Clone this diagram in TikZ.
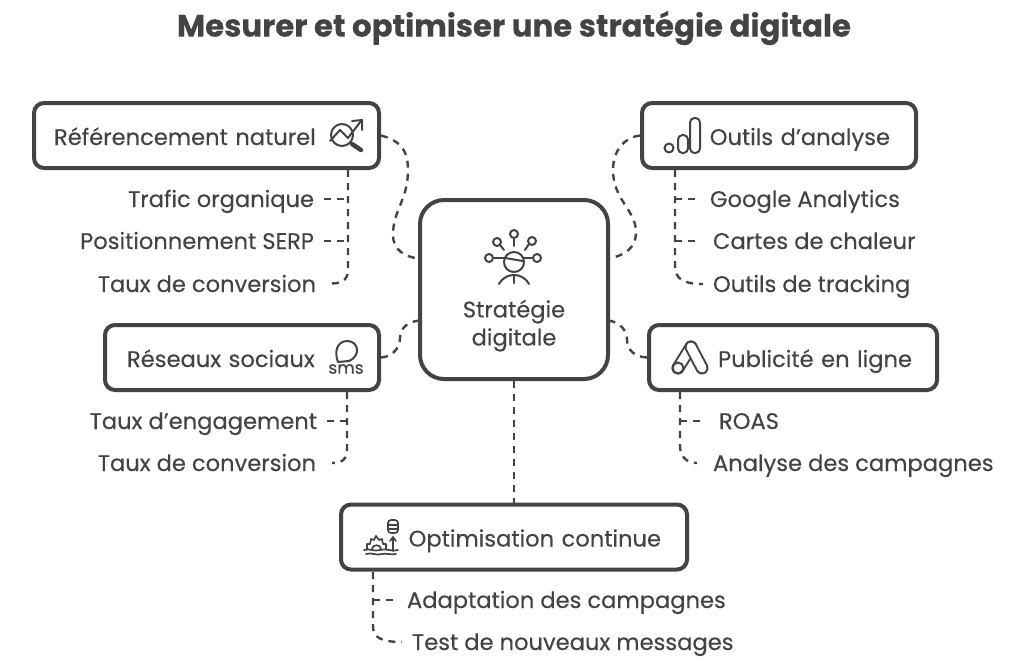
\documentclass[tikz,border=0pt]{standalone}
\usepackage{fontspec}
\setmainfont{Poppins}[FakeBold=0.25]
\definecolor{ink}{HTML}{434343}
\tikzset{
  box/.style={draw=ink, text=ink, line width=4pt, rounded corners=10pt, minimum height=65pt, inner xsep=20pt, font=\fontsize{22.6}{28}\selectfont},
  lone/.style={text height=25pt, text depth=6pt},
  leaf/.style={text=ink, inner sep=0pt, outer sep=4pt, text height=21pt, text depth=5pt, font=\fontsize{22.6}{24}\selectfont},
  link/.style={draw=ink, line width=2.4pt, dash pattern=on 7pt off 6pt},
  ico/.style={draw=ink, line width=2pt, line cap=round, line join=round},
}
\begin{document}
\begin{tikzpicture}[x=1pt,y=-1pt]
\useasboundingbox (0,0) rectangle (1024,662);
\node[text=ink, inner sep=0pt, font=\fontsize{30.8}{34}\selectfont\bfseries] (title) at (514,28){Mesurer et optimiser une stratégie digitale};
% boxes
\node[box, rounded corners=24pt, minimum width=188pt, minimum height=179pt, align=center] (strat) at (514,289.5){\rule{0pt}{62pt}\\Stratégie\\digitale};
\node[box, lone, text width=305pt, align=left] (refnat) at (206.5,135.5){Référencement naturel};
\node[box, lone, inner xsep=26pt, text width=222pt, align=right] (analyse) at (779,135.5){Outils d'analyse};
\node[box, lone, inner xsep=22pt, text width=230pt, align=left] (social) at (242,357.5){Réseaux sociaux};
\node[box, lone, inner xsep=25pt, text width=238pt, align=right] (pub) at (793,357.5){Publicité en ligne};
\node[box, lone, inner xsep=26pt, text width=294pt, align=right] (optim) at (514,537){Optimisation continue};
% leaves
\node[leaf, anchor=east] (ref1) at (318,199){Trafic organique};
\node[leaf, anchor=east] (ref2) at (318,241){Positionnement SERP};
\node[leaf, anchor=east] (ref3) at (320,284){Taux de conversion};
\node[leaf, anchor=west] (ana1) at (706,199){Google Analytics};
\node[leaf, anchor=west] (ana2) at (709,241){Cartes de chaleur};
\node[leaf, anchor=west] (ana3) at (709,284){Outils de tracking};
\node[leaf, anchor=east] (soc1) at (321,421){Taux d'engagement};
\node[leaf, anchor=east] (soc2) at (320,463){Taux de conversion};
\node[leaf, anchor=west] (pub1) at (715,421){ROAS};
\node[leaf, anchor=west] (pub2) at (709,463){Analyse des campagnes};
\node[leaf, anchor=west] (opt1) at (403,600){Adaptation des campagnes};
\node[leaf, anchor=west] (opt2) at (408,642){Test de nouveaux messages};
% trunks start under the boxes
\coordinate (reftop) at (348,170);
\coordinate (anatop) at (675,170);
\coordinate (soctop) at (347,392);
\coordinate (pubtop) at (680,392);
\coordinate (opttop) at (373,572);
% links from the centre
\draw[link] (refnat.east) .. controls (398,140) and (408,148) .. (408,170) .. controls (408,200) and (393,210) .. (393,235) .. controls (393,250) and (405,257) .. (strat.162);
\draw[link] (analyse.west) .. controls (625,137) and (613,150) .. (613,170) .. controls (613,200) and (636,210) .. (636,232) .. controls (636,248) and (625,255) .. (strat.18);
\draw[link] (social.east) .. controls (392,357) and (400,348) .. (400,338) .. controls (400,328) and (408,322) .. (strat.198);
\draw[link] (pub.west) .. controls (635,357) and (627,350) .. (627,340) .. controls (627,330) and (620,323) .. (strat.-18);
\draw[link] (strat.south) -- (optim.north);
% trunks
\draw[link, shorten >=12pt] (reftop) -- (348,268) .. controls (348,278) and (345,283) .. (ref3.east);
\draw[link, shorten <=6pt] (ref1.east) -- (348,199);
\draw[link, shorten <=6pt] (ref2.east) -- (348,241);
\draw[link, shorten >=6pt] (anatop) -- (675,266) .. controls (675,278) and (682,284) .. (ana3.west);
\draw[link, shorten <=11pt] (ana1.west) -- (675,199);
\draw[link, shorten <=14pt] (ana2.west) -- (675,241);
\draw[link, shorten >=12pt] (soctop) -- (347,448) .. controls (347,458) and (344,463) .. (soc2.east);
\draw[link, shorten <=6pt] (soc1.east) -- (347,421);
\draw[link, shorten >=12pt] (pubtop) -- (680,446) .. controls (680,456) and (686,463) .. (pub2.west);
\draw[link, shorten <=15pt] (pub1.west) -- (680,421);
\draw[link, shorten >=6pt] (opttop) -- (373,626) .. controls (373,637) and (380,642) .. (opt2.west);
\draw[link, shorten <=10pt] (opt1.west) -- (373,600);
% icon: search chart
\draw[ico] (342,135) circle[radius=11];
\draw[ico] (330,141) -- (340,130) -- (348,138) -- (361,121);
\draw[ico] (352,121) -- (362,120) -- (362,130);
\draw[ico, line width=4.5pt] (352,144) -- (361,150);
% icon: bars
\draw[ico] (669,148) circle[radius=4.5];
\draw[ico, rounded corners=4.5pt] (678,135) rectangle (688,153);
\draw[ico, rounded corners=4.5pt] (690,118) rectangle (700,153);
% icon: person
\draw[ico] (514,262) circle[radius=10];
\draw[ico] (505,258) -- (523,261);
\draw[ico] (489,258) circle[radius=4];
\draw[ico] (537,258) circle[radius=4];
\draw[ico] (514,234) circle[radius=4];
\draw[ico] (497,242) circle[radius=4];
\draw[ico] (532,241) circle[radius=4];
\draw[ico] (493,258) -- (504,258);
\draw[ico] (524,258) -- (533,258);
\draw[ico] (514,238) -- (514,246);
\draw[ico] (500,245) -- (504,250);
\draw[ico] (529,244) -- (525,250);
\draw[ico] (499,284) .. controls (503,277) and (509,275) .. (514,275) .. controls (519,275) and (525,277) .. (529,284);
\draw[ico] (514,275) -- (514,283);
% icon: sms
\draw[ico] (338,362) .. controls (334,352) and (337,341) .. (347,341) .. controls (359,341) and (361,356) .. (349,361) -- (338,362);
\node[text=ink, inner sep=0pt, font=\fontsize{17}{17}\selectfont] (smstxt) at (346,369){sms};
% icon: ads
\draw[ico, line width=13pt] (678,368) -- (691,347);
\draw[white, line width=9pt, line cap=round] (678,368) -- (691,347);
\draw[ico, line width=13pt] (691,347) -- (702,368);
\draw[white, line width=9pt, line cap=round] (691,347) -- (702,368);
\draw[ico] (678,368) circle[radius=5.5];
% icon: data and gear
\draw[ico, line width=1.7pt, rounded corners=3pt] (388,520) rectangle (398,533);
\draw[ico, line width=1.7pt] (388,525) -- (398,525) (388,529) -- (398,529);
\draw[ico, line width=1.7pt] (393,551) -- (393,538) (390,541) -- (393,537) -- (396,541);
\draw[ico, line width=1.7pt] (367,549) -- (367,544) -- (370,544) -- (371,539) -- (374,540) -- (376,536) -- (379,540) -- (382,539) -- (383,544) -- (386,544) -- (386,549);
\draw[ico, line width=1.7pt] (372,549) .. controls (372,544) and (381,544) .. (381,549);
\draw[ico, line width=1.7pt] (364,550) .. controls (370,548) and (374,552) .. (380,550) .. controls (386,548) and (392,552) .. (398,550);
\draw[ico, line width=1.7pt] (366,554) .. controls (372,552) and (376,556) .. (382,554) .. controls (386,553) and (392,555) .. (396,554);
\end{tikzpicture}
\end{document}
